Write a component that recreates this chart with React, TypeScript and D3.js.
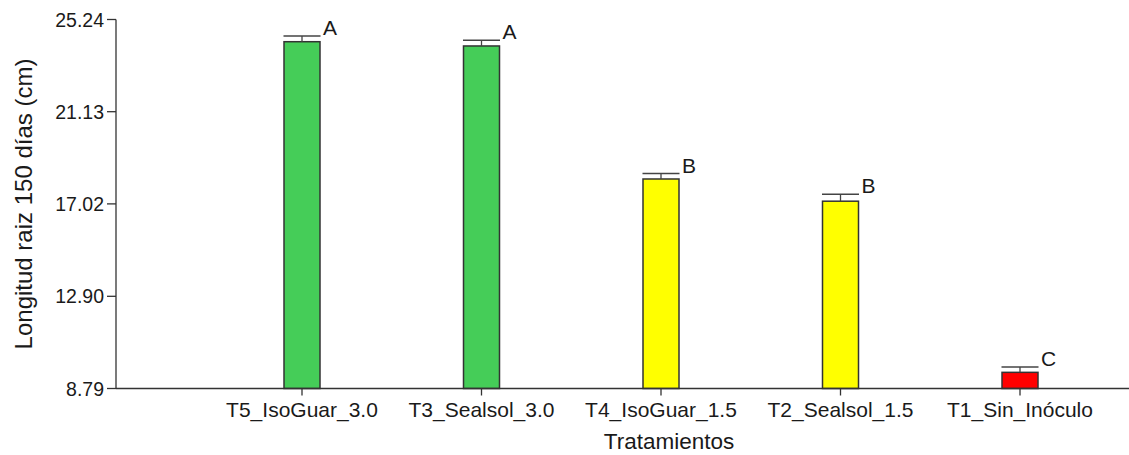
import React from 'react';
import * as d3 from 'd3';

// treatments, means, standard errors and Tukey letters
const categories = ['T5_IsoGuar_3.0', 'T3_Sealsol_3.0', 'T4_IsoGuar_1.5', 'T2_Sealsol_1.5', 'T1_Sin_Inóculo'];
const means = [24.25, 24.06, 18.13, 17.14, 9.51];
const errors = [0.26, 0.25, 0.24, 0.31, 0.24];
const letters = ['A', 'A', 'B', 'B', 'C'];
const barColors = ['#45CD58', '#45CD58', '#FFFF00', '#FFFF00', '#FF0000'];
const yTicks = [8.79, 12.9, 17.02, 21.13, 25.24];

const width = 1129;
const height = 455;
const axisX = 116;
const font = '"Liberation Sans", Arial, sans-serif';
const ink = '#1a1a1a';
const lineColor = '#333';

const App: React.FC = () => {
  const y = d3.scaleLinear().domain([8.79, 25.24]).range([388.5, 19.5]);
  const x = d3.scalePoint<string>().domain(categories).range([302, 1020]);
  const barW = 36;
  const base = y(8.79);

  return (
    <svg
      width={width}
      height={height}
      style={{ position: 'absolute', left: 0, top: 0, background: '#fff' }}
      fontFamily={font}
    >
      {/* bars */}
      {categories.map((c, i) => {
        const cx = x(c)!;
        const top = y(means[i]);
        const capY = y(means[i] + errors[i]);
        return (
          <g key={c}>
            <rect
              x={cx - barW / 2}
              y={top}
              width={barW}
              height={base - top}
              fill={barColors[i]}
              stroke="#333"
              strokeWidth={1.5}
            />
            <line x1={cx} x2={cx} y1={top} y2={capY} stroke="#444" strokeWidth={1.3} />
            <line x1={cx - barW / 2 - 0.5} x2={cx + barW / 2 + 0.5} y1={capY} y2={capY} stroke="#444" strokeWidth={1.5} />
            <text x={cx + barW / 2 + 3} y={capY - 1} fontSize={21} fill={ink}>
              {letters[i]}
            </text>
          </g>
        );
      })}

      {/* y axis */}
      <line x1={axisX} x2={axisX} y1={y(25.24)} y2={base} stroke={lineColor} strokeWidth={1.3} />
      {yTicks.map(t => (
        <g key={t}>
          <line x1={axisX - 9} x2={axisX} y1={y(t)} y2={y(t)} stroke={lineColor} strokeWidth={1.3} />
          <text x={axisX - 12} y={y(t) + 7} fontSize={19.5} textAnchor="end" fill={ink}>
            {t.toFixed(2)}
          </text>
        </g>
      ))}

      {/* x axis */}
      <line x1={axisX} x2={width} y1={base} y2={base} stroke={lineColor} strokeWidth={1.3} />
      {categories.map(c => (
        <g key={c}>
          <line x1={x(c)!} x2={x(c)!} y1={base} y2={base + 7} stroke={lineColor} strokeWidth={1.3} />
          <text x={x(c)!} y={416.5} fontSize={21} textAnchor="middle" fill={ink}>
            {c}
          </text>
        </g>
      ))}

      {/* axis titles */}
      <text x={669} y={449} fontSize={22.5} textAnchor="middle" fill={ink}>
        Tratamientos
      </text>
      <text
        transform={`translate(32,${(y(25.24) + base) / 2}) rotate(-90)`}
        fontSize={24}
        textAnchor="middle"
        fill={ink}
      >
        Longitud raiz 150 días (cm)
      </text>
    </svg>
  );
};

export default App;
